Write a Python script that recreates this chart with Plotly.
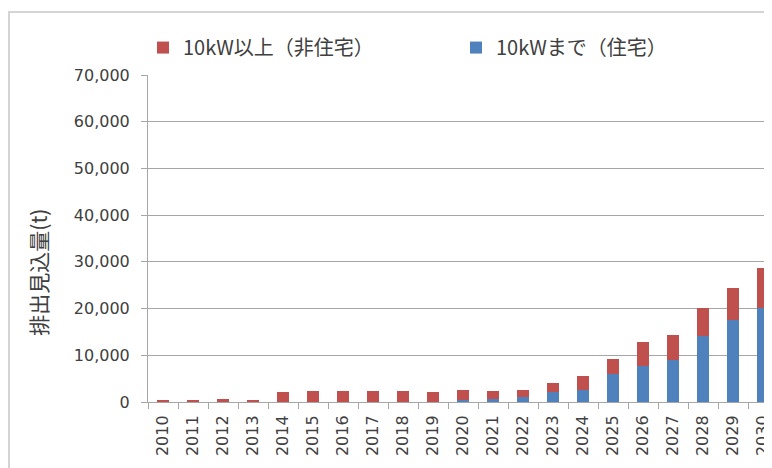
import plotly.graph_objects as go

years = [str(y) for y in range(2010, 2031)]
# 10kWまで（住宅） — bottom segment
residential = [50, 50, 50, 50, 50, 50, 50, 50, 50, 50, 500, 700, 1150, 2150, 2600,
               5950, 7760, 9040, 14230, 17590, 20090]
# 10kW以上（非住宅） — top segment
non_residential = [200, 300, 700, 250, 2050, 2300, 2300, 2300, 2300, 2150, 2140, 1750, 1490,
                   2000, 3050, 3250, 4980, 5340, 5920, 6830, 8540]

y_ticks = [0, 10000, 20000, 30000, 40000, 50000, 60000, 70000]

RED = "#C0504D"
BLUE = "#4F81BD"
TXT = "#404040"
GRID = "#a6a6a6"

# the page has an 8px body margin; work in window pixels and shift
OFF = 8
W, H = 772 - OFF, 468 - OFF
L, R, T, B = 148 - OFF, 0, 75 - OFF, 468 - 402.5
pw = W - L - R
ph = H - T - B

def px_x(px):
    return (px - OFF - L) / pw

def px_y(py):
    return (H - B - (py - OFF)) / ph

fig = go.Figure()
fig.add_trace(go.Bar(
    x=years, y=residential, name="10kWまで（住宅）",
    marker=dict(color=BLUE, line=dict(width=0)), legendrank=2,
))
fig.add_trace(go.Bar(
    x=years, y=non_residential, name="10kW以上（非住宅）",
    marker=dict(color=RED, line=dict(width=0)), legendrank=1,
))

fig.update_layout(
    width=W, height=H,
    margin=dict(l=L, r=R, t=T, b=B, autoexpand=False),
    barmode="stack", bargap=0.6,
    paper_bgcolor="white", plot_bgcolor="white",
    font=dict(family="DejaVu Sans", size=16, color=TXT),
    showlegend=True,
    legend=dict(
        orientation="h", x=px_x(143), y=px_y(28), xanchor="left", yanchor="top",
        traceorder="normal", entrywidth=268, entrywidthmode="pixels",
        font=dict(family="Noto Sans CJK JP", size=20, color=TXT),
        bgcolor="rgba(0,0,0,0)", itemclick=False,
    ),
    xaxis=dict(
        type="category", range=[-0.5, 20.3], tickangle=-90,
        showline=True, linecolor=GRID, linewidth=1,
        ticks="outside", tickson="boundaries", ticklen=6, tickcolor=GRID,
        showgrid=False, tickfont=dict(family="DejaVu Sans", size=16, color=TXT),
        ticklabelstandoff=6, fixedrange=True,
    ),
    yaxis=dict(
        range=[0, 70000], tickvals=y_ticks, tickformat=",d",
        showline=True, linecolor=GRID, linewidth=1,
        ticks="outside", ticklen=6, tickcolor=GRID,
        showgrid=True, gridcolor=GRID, gridwidth=1, zeroline=False,
        tickfont=dict(family="DejaVu Sans", size=16, color=TXT),
        ticklabelstandoff=8, fixedrange=True,
    ),
    annotations=[dict(
        text="排出見込量(t)", textangle=-90, showarrow=False,
        xref="paper", yref="paper", x=px_x(38), y=px_y(272),
        xanchor="center", yanchor="middle",
        font=dict(family="Noto Sans CJK JP", size=21, color=TXT),
    )],
    shapes=[dict(
        type="rect", xref="paper", yref="paper",
        x0=px_x(9), x1=px_x(800), y0=px_y(520), y1=px_y(12),
        line=dict(color="#d4d4d4", width=2), fillcolor="rgba(0,0,0,0)", layer="below",
    )],
)

fig.write_html("out.html")
